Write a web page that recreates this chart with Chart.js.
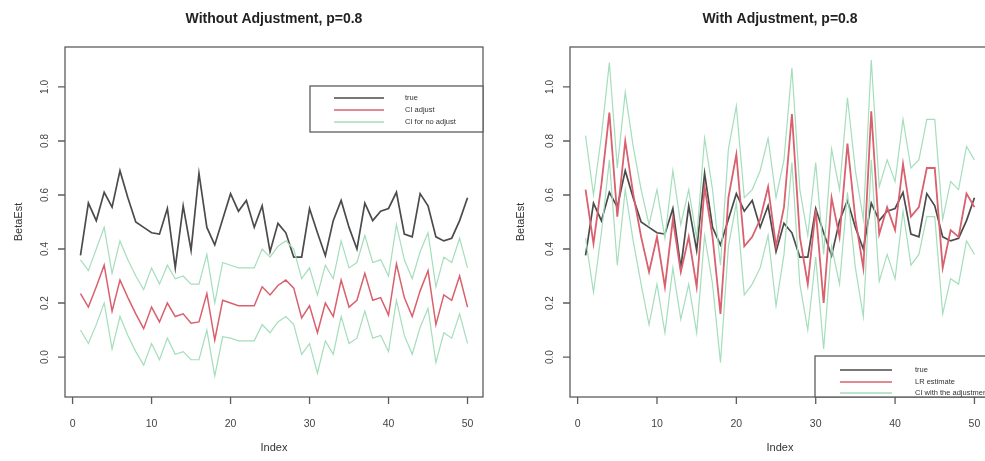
<!DOCTYPE html>
<html>
<head>
<meta charset="utf-8">
<script src="https://cdn.jsdelivr.net/npm/chart.js@4.4.0/dist/chart.umd.min.js"></script>
<style>
    html, body { margin: 0; padding: 0; background: #fff; overflow: hidden; }
    #wrap { position: relative; width: 985px; height: 461px; overflow: hidden; }
    .panel { position: absolute; top: 0; }
</style>
</head>
<body>
<div id="wrap">
    <canvas id="left-chart" class="panel" width="500" height="461" style="left:0px"></canvas>
    <canvas id="right-chart" class="panel" width="500" height="461" style="left:500px"></canvas>
</div>
<script>
// simulation index
const idx = [1, 2, 3, 4, 5, 6, 7, 8, 9, 10, 11, 12, 13, 14, 15, 16, 17, 18, 19, 20,
    21, 22, 23, 24, 25, 26, 27, 28, 29, 30, 31, 32, 33, 34, 35, 36, 37, 38, 39, 40,
    41, 42, 43, 44, 45, 46, 47, 48, 49, 50];
const xTicks = [0, 10, 20, 30, 40, 50];
const yTicks = [0.0, 0.2, 0.4, 0.6, 0.8, 1.0];

// true beta (same in both panels)
const trueVals = [0.376, 0.57, 0.505, 0.61, 0.555, 0.69, 0.59, 0.50, 0.48, 0.46,
    0.455, 0.55, 0.33, 0.56, 0.395, 0.68, 0.48, 0.415, 0.51, 0.605,
    0.54, 0.58, 0.48, 0.56, 0.39, 0.495, 0.46, 0.37, 0.37, 0.55,
    0.46, 0.375, 0.505, 0.58, 0.48, 0.40, 0.57, 0.505, 0.54, 0.55,
    0.61, 0.455, 0.445, 0.605, 0.56, 0.445, 0.43, 0.44, 0.505, 0.59];

// without adjustment
const noAdjEst = [0.235, 0.185, 0.26, 0.34, 0.17, 0.285, 0.22, 0.16, 0.105, 0.185,
    0.13, 0.20, 0.15, 0.16, 0.125, 0.13, 0.235, 0.063, 0.21, 0.20,
    0.19, 0.19, 0.19, 0.26, 0.23, 0.265, 0.285, 0.255, 0.145, 0.19,
    0.09, 0.20, 0.15, 0.285, 0.185, 0.21, 0.31, 0.21, 0.22, 0.155,
    0.345, 0.22, 0.15, 0.245, 0.32, 0.12, 0.23, 0.21, 0.30, 0.185];
const noAdjUpper = [0.36, 0.32, 0.40, 0.48, 0.31, 0.43, 0.36, 0.30, 0.25, 0.33,
    0.27, 0.34, 0.29, 0.30, 0.27, 0.27, 0.38, 0.20, 0.35, 0.34,
    0.33, 0.33, 0.33, 0.40, 0.37, 0.41, 0.43, 0.40, 0.29, 0.33,
    0.23, 0.34, 0.29, 0.43, 0.33, 0.35, 0.45, 0.35, 0.36, 0.30,
    0.49, 0.36, 0.29, 0.39, 0.46, 0.26, 0.37, 0.35, 0.44, 0.33];
const noAdjLower = [0.10, 0.05, 0.12, 0.20, 0.03, 0.15, 0.08, 0.02, -0.03, 0.05,
    -0.01, 0.07, 0.01, 0.02, -0.01, -0.01, 0.10, -0.07, 0.075, 0.07,
    0.06, 0.06, 0.06, 0.12, 0.09, 0.13, 0.15, 0.12, 0.01, 0.05,
    -0.06, 0.06, 0.01, 0.15, 0.05, 0.07, 0.17, 0.07, 0.08, 0.02,
    0.21, 0.08, 0.01, 0.11, 0.18, -0.02, 0.09, 0.07, 0.16, 0.05];

// with adjustment
const adjEst = [0.62, 0.42, 0.64, 0.905, 0.52, 0.80, 0.605, 0.445, 0.315, 0.445,
    0.26, 0.51, 0.315, 0.445, 0.26, 0.63, 0.445, 0.16, 0.59, 0.75,
    0.41, 0.445, 0.51, 0.63, 0.41, 0.555, 0.90, 0.445, 0.27, 0.545,
    0.20, 0.59, 0.445, 0.79, 0.51, 0.33, 0.91, 0.455, 0.555, 0.47,
    0.715, 0.52, 0.555, 0.70, 0.70, 0.33, 0.47, 0.445, 0.605, 0.555];
const adjUpper = [0.82, 0.60, 0.82, 1.09, 0.70, 0.98, 0.78, 0.62, 0.49, 0.62,
    0.44, 0.69, 0.49, 0.62, 0.44, 0.81, 0.62, 0.34, 0.77, 0.93,
    0.59, 0.62, 0.69, 0.81, 0.59, 0.73, 1.07, 0.62, 0.45, 0.72,
    0.38, 0.77, 0.62, 0.96, 0.69, 0.51, 1.10, 0.63, 0.73, 0.65,
    0.88, 0.70, 0.73, 0.88, 0.88, 0.51, 0.65, 0.62, 0.78, 0.73];
const adjLower = [0.44, 0.24, 0.46, 0.73, 0.34, 0.62, 0.43, 0.27, 0.12, 0.27,
    0.09, 0.33, 0.14, 0.27, 0.09, 0.45, 0.27, -0.02, 0.41, 0.57,
    0.23, 0.27, 0.33, 0.45, 0.19, 0.38, 0.72, 0.27, 0.10, 0.37,
    0.03, 0.41, 0.27, 0.61, 0.33, 0.15, 0.73, 0.28, 0.38, 0.29,
    0.54, 0.34, 0.38, 0.52, 0.52, 0.16, 0.29, 0.27, 0.43, 0.38];

const leftLegend = ['true', 'CI adjust', 'CI for no adjust'];
const rightLegend = ['true', 'LR estimate', 'CI with the adjustment'];

const colTrue = '#4b4b4b';
const colEst = '#d9606d';
const colCI = '#a4debb';
const labelFont = '"Liberation Sans", Arial, Helvetica, sans-serif';

function pts(vals) {
    return idx.map((x, i) => ({ x: x, y: vals[i] }));
}

// R風の枠、目盛り、タイトル、凡例
const rStyle = {
    id: 'rStyle',
    afterDraw(chart, args, opts) {
        const ctx = chart.ctx;
        const a = chart.chartArea;
        const xs = chart.scales.x;
        const ys = chart.scales.y;
        ctx.save();
        ctx.strokeStyle = '#5c5c5c';
        ctx.lineWidth = 1.3;
        ctx.strokeRect(a.left, a.top, a.right - a.left, a.bottom - a.top);

        ctx.beginPath();
        xTicks.forEach(v => {
            const px = xs.getPixelForValue(v);
            ctx.moveTo(px, a.bottom);
            ctx.lineTo(px, a.bottom + 7);
        });
        yTicks.forEach(v => {
            const py = ys.getPixelForValue(v);
            ctx.moveTo(a.left, py);
            ctx.lineTo(a.left - 7, py);
        });
        ctx.stroke();

        // 縦書きの y 目盛りラベル
        ctx.fillStyle = '#444';
        ctx.font = '10px ' + labelFont;
        ctx.textAlign = 'center';
        ctx.textBaseline = 'middle';
        yTicks.forEach(v => {
            const py = ys.getPixelForValue(v);
            ctx.save();
            ctx.translate(a.left - 20, py);
            ctx.rotate(-Math.PI / 2);
            ctx.fillText(v.toFixed(1), 0, 0);
            ctx.restore();
        });

        ctx.fillStyle = '#222';
        ctx.font = 'bold 14px ' + labelFont;
        ctx.fillText(opts.title, (a.left + a.right) / 2, 19);

        // 凡例
        const lg = opts.legend;
        ctx.fillStyle = '#fff';
        ctx.fillRect(lg.x, lg.y, lg.w, lg.h);
        ctx.strokeStyle = '#5c5c5c';
        ctx.lineWidth = 1.3;
        ctx.strokeRect(lg.x, lg.y, lg.w, lg.h);
        const cols = [colTrue, colEst, colCI];
        ctx.font = '7.5px ' + labelFont;
        ctx.textAlign = 'left';
        lg.labels.forEach((t, k) => {
            const ry = lg.y + lg.rows[k];
            ctx.strokeStyle = cols[k];
            ctx.lineWidth = k === 0 ? 1.6 : 1.3;
            ctx.beginPath();
            ctx.moveTo(lg.x + lg.x0, ry);
            ctx.lineTo(lg.x + lg.x1, ry);
            ctx.stroke();
            ctx.fillStyle = '#333';
            ctx.fillText(t, lg.x + lg.tx, ry);
        });
        ctx.restore();
    }
};

function makeChart(id, est, upper, lower, cfg) {
    const ctx = document.getElementById(id).getContext('2d');
    return new Chart(ctx, {
        type: 'line',
        data: {
            datasets: [
                { data: pts(upper), borderColor: colCI, borderWidth: 1.2 },
                { data: pts(lower), borderColor: colCI, borderWidth: 1.2 },
                { data: pts(est), borderColor: colEst, borderWidth: cfg.estWidth },
                { data: pts(trueVals), borderColor: colTrue, borderWidth: 1.7 }
            ]
        },
        options: {
            responsive: false,
            animation: false,
            events: [],
            elements: { point: { radius: 0 }, line: { tension: 0, fill: false } },
            layout: { padding: { left: 0, top: 47, right: cfg.padRight, bottom: 0 } },
            scales: {
                x: {
                    type: 'linear',
                    min: -0.96,
                    max: 51.96,
                    afterBuildTicks: s => { s.ticks = xTicks.map(v => ({ value: v })); },
                    afterFit: s => { s.height = 64; },
                    grid: { display: false },
                    border: { display: false },
                    ticks: {
                        padding: 13,
                        color: '#444',
                        font: { family: labelFont, size: 10.5 },
                        maxRotation: 0
                    },
                    title: {
                        display: true,
                        text: 'Index',
                        color: '#333',
                        font: { family: labelFont, size: 11 },
                        padding: { top: 0, bottom: 6 }
                    }
                },
                y: {
                    min: -0.148,
                    max: 1.148,
                    afterFit: s => { s.width = cfg.axisWidth; },
                    grid: { display: false },
                    border: { display: false },
                    ticks: { display: false },
                    title: {
                        display: true,
                        text: 'BetaEst',
                        color: '#333',
                        font: { family: labelFont, size: 11 },
                        padding: { top: cfg.titlePad, bottom: 0 }
                    }
                }
            },
            plugins: {
                legend: { display: false },
                tooltip: { enabled: false },
                rStyle: { title: cfg.title, legend: cfg.legend }
            }
        },
        plugins: [rStyle]
    });
}

makeChart('left-chart', noAdjEst, noAdjUpper, noAdjLower, {
    title: 'Without Adjustment, p=0.8',
    estWidth: 1.5,
    padRight: 17,
    axisWidth: 65,
    titlePad: 12,
    legend: { x: 310, y: 86, w: 173, h: 46, x0: 24, x1: 74, tx: 95, rows: [12, 24, 36], labels: leftLegend }
});

makeChart('right-chart', adjEst, adjUpper, adjLower, {
    title: 'With Adjustment, p=0.8',
    estWidth: 1.8,
    padRight: 10,
    axisWidth: 70,
    titlePad: 14,
    legend: { x: 315, y: 356, w: 175, h: 41, x0: 25, x1: 77, tx: 100, rows: [14, 26, 37], labels: rightLegend }
});
</script>
</body>
</html>
